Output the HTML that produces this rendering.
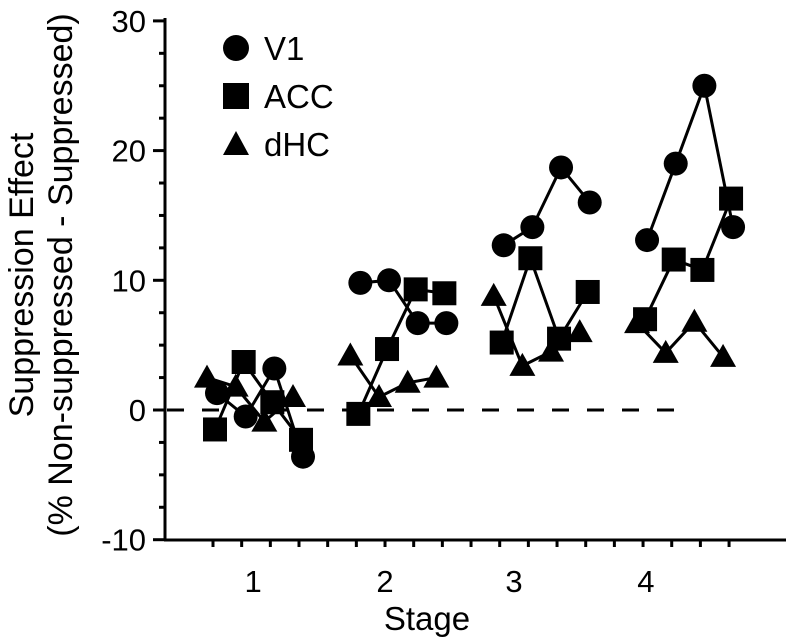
<!DOCTYPE html>
<html><head><meta charset="utf-8"><style>
body{margin:0;background:#fff}
svg{display:block;font-family:"Liberation Sans",Arial,sans-serif}
</style></head><body>
<svg id="c" width="788" height="639" viewBox="0 0 788 639">
<g id="axes"></g><g id="series"></g>
<g>
<circle cx="236" cy="48" r="13" fill="#000"/>
<text x="264" y="60" font-size="33">V1</text>
<rect x="223" y="83" width="26" height="26" fill="#000"/>
<text x="264" y="108" font-size="33">ACC</text>
<polygon points="223,155 236,131 249,155" fill="#000"/>
<text x="264" y="156" font-size="33">dHC</text>
</g>
<text x="427" y="630" font-size="33" text-anchor="middle">Stage</text>
<text transform="translate(33,275) rotate(-90)" font-size="34" text-anchor="middle">Suppression Effect</text>
<text transform="translate(72,275) rotate(-90)" font-size="34" text-anchor="middle">(% Non-suppressed - Suppressed)</text>
</svg>
<script>
const stages = ["1","2","3","4"];
const yTicks = [30,20,10,0,-10];
const v1 = [[1.3,-0.5,3.2,-3.6],[9.8,10.0,6.7,6.7],[12.7,14.1,18.7,16.0],[13.1,19.0,25.0,14.1]];
const acc = [[-1.5,3.7,0.6,-2.3],[-0.3,4.7,9.3,9.0],[5.2,11.7,5.5,9.1],[7.0,11.6,10.8,16.3]];
const dhc = [[2.5,1.8,-0.9,1.0],[4.2,1.0,2.1,2.5],[8.8,3.4,4.5,6.0],[6.7,4.4,6.8,4.1]];

const NS="http://www.w3.org/2000/svg";
const y0=410, ppu=12.97, xAxisY=540, x0=213, step=28.67;
const labelSess=[1.4,1.0,0.5,0.1];
function ys(v){return y0 - v*ppu;}
function xs(stage,sess,off){return x0+(stage*5+sess)*step+off;}
function mk(tag,attrs,parent){const e=document.createElementNS(NS,tag);for(const k in attrs)e.setAttribute(k,attrs[k]);parent.appendChild(e);return e;}
const ax=document.getElementById('axes'), sg=document.getElementById('series');
let e=mk('line',{x1:165,y1:18,x2:165,y2:xAxisY,stroke:'#000','stroke-width':3},ax);


e=mk('line',{x1:164,y1:xAxisY,x2:786,y2:xAxisY,stroke:'#000','stroke-width':3},ax);


for(let v=-10;v<=30;v+=2.5){
  const major=(v%10===0);
  e=mk('line',{x1:major?153:159,y1:ys(v),x2:165,y2:ys(v),stroke:'#000','stroke-width':3},ax);
  
  
}
yTicks.forEach(v=>{
  const t=mk('text',{x:146,y:ys(v)+11,'font-size':31,'text-anchor':'end'},ax);t.textContent=v;
  
  
});
for(let i=0;i<19;i++){
  e=mk('line',{x1:x0+i*step,y1:xAxisY,x2:x0+i*step,y2:xAxisY+7,stroke:'#000','stroke-width':3},ax);
  
  
}
stages.forEach((s,i)=>{
  const t=mk('text',{x:xs(i,labelSess[i],0),y:592,'font-size':31,'text-anchor':'middle'},ax);t.textContent=s;
  
  
});
e=mk('line',{x1:167,y1:ys(0),x2:690,y2:ys(0),stroke:'#000','stroke-width':3,'stroke-dasharray':'17 18'},ax);



function drawSeries(data,off,shape,name){
  data.forEach((vals,si)=>{
    const pts=vals.map((v,j)=>[xs(si,j,off),ys(v)]);
    const pl=mk('polyline',{points:pts.map(p=>p.join(',')).join(' '),fill:'none',stroke:'#000','stroke-width':3},sg);
    
    
    pts.forEach(([x,y])=>{
      let m;
      if(shape==='c') m=mk('circle',{cx:x,cy:y,r:12,fill:'#000'},sg);
      else if(shape==='s') m=mk('rect',{x:x-12,y:y-12,width:24,height:24,fill:'#000'},sg);
      else m=mk('polygon',{points:`${x-13},${y+10} ${x},${y-13} ${x+13},${y+10}`,fill:'#000'},sg);
      
      
    });
  });
}
drawSeries(dhc,-6,'t','dhc');
drawSeries(acc,2,'s','acc');
drawSeries(v1,4,'c','v1');
</script>
</body></html>
